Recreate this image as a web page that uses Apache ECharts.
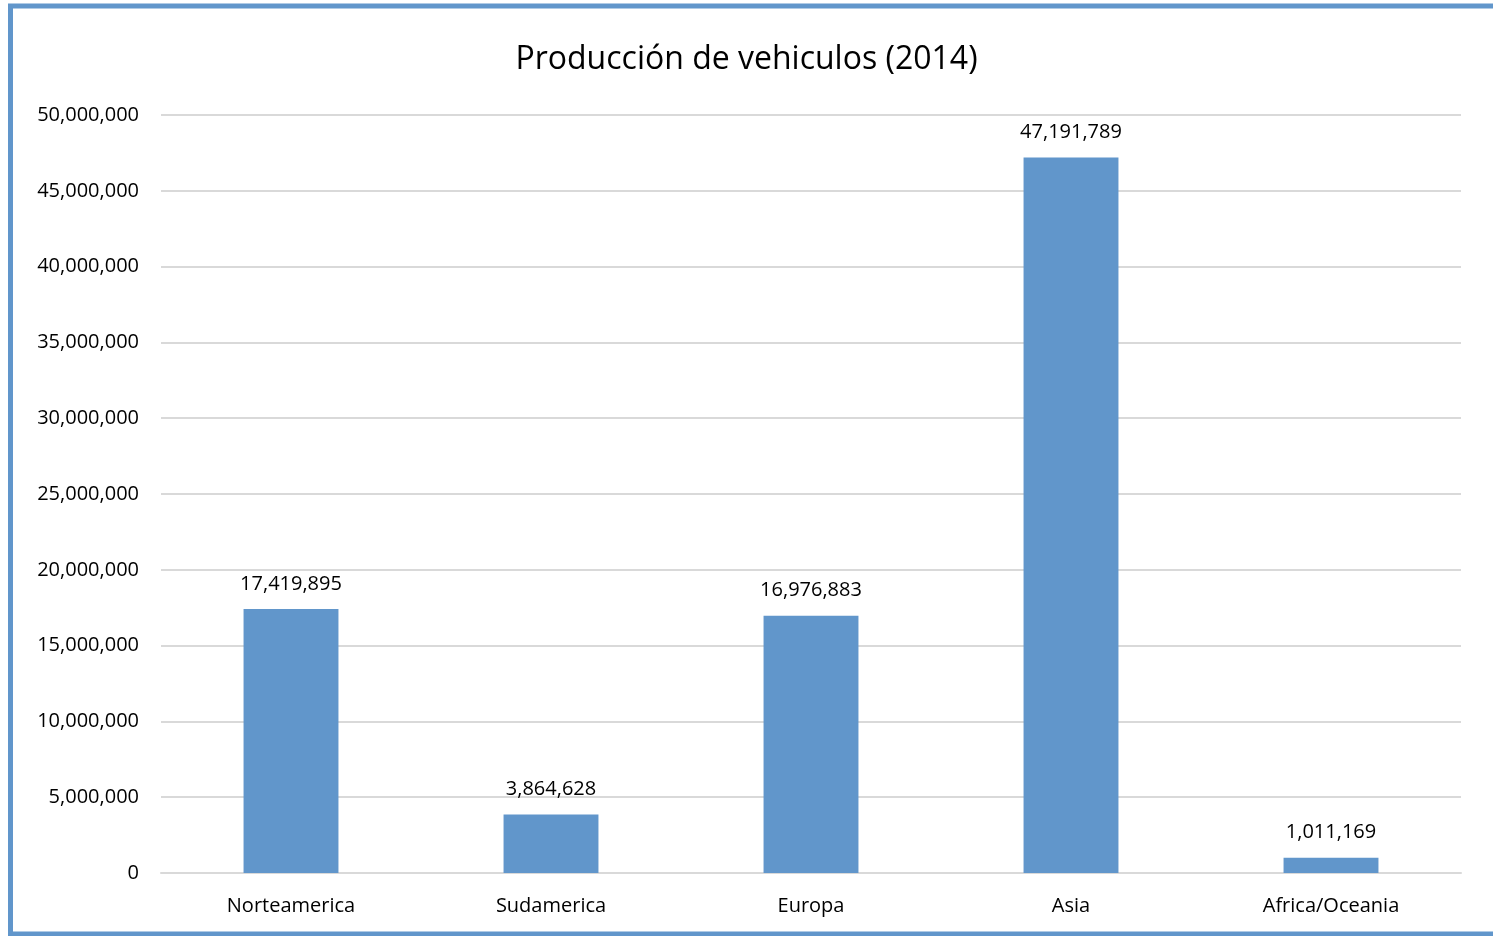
<!DOCTYPE html>
<html>
<head>
<meta charset="UTF-8">
<title>Producción de vehiculos (2014)</title>
<script src="https://cdn.jsdelivr.net/npm/echarts@6/dist/echarts.min.js"></script>
<style>
html, body { margin: 0; padding: 0; background: #fff; }
#main { width: 1493px; height: 936px; }
</style>
</head>
<body>
<div id="main"></div>
<script>
var regiones = ['Norteamerica', 'Sudamerica', 'Europa', 'Asia', 'Africa/Oceania'];
var produccion = [17419895, 3864628, 16976883, 47191789, 1011169];

var fuente = "'Open Sans', 'Noto Sans', sans-serif";

function miles(v) {
	return String(v).replace(/\B(?=(\d{3})+(?!\d))/g, ',');
}

var myChart = echarts.init(document.getElementById('main'));
var option = {
	animation : false,
	title : {
		text : 'Producción de vehiculos (2014)',
		left : 'center',
		top : 39,
		textStyle : {
			fontFamily : fuente,
			fontSize : 32,
			fontWeight : 'normal',
			color : '#000'
		}
	},
	graphic : [ {
		type : 'rect',
		shape : { x : 10.5, y : 6, width : 1500, height : 928 },
		style : { fill : 'none', stroke : '#6196cb', lineWidth : 5 }
	} ],
	grid : {
		left : 161,
		right : 32,
		top : 115,
		bottom : 63
	},
	xAxis : {
		type : 'category',
		data : regiones,
		axisTick : { show : false },
		axisLine : { lineStyle : { color : '#d9d9d9', width : 2 } },
		axisLabel : {
			color : '#000',
			fontFamily : fuente,
			fontSize : 20,
			margin : 23
		}
	},
	yAxis : {
		type : 'value',
		min : 0,
		max : 50000000,
		interval : 5000000,
		axisLine : { show : false },
		axisTick : { show : false },
		splitLine : { lineStyle : { color : '#d9d9d9', width : 2 } },
		axisLabel : {
			color : '#000',
			fontFamily : fuente,
			fontSize : 20,
			margin : 22,
			formatter : function(v) { return miles(v); }
		}
	},
	series : [ {
		type : 'bar',
		data : produccion,
		barWidth : '36.5%',
		itemStyle : { color : '#6196cb' },
		label : {
			show : true,
			position : 'top',
			distance : 15,
			color : '#000',
			fontFamily : fuente,
			fontSize : 20,
			formatter : function(p) { return miles(p.value); }
		}
	} ]
};
myChart.setOption(option);
</script>
</body>
</html>
